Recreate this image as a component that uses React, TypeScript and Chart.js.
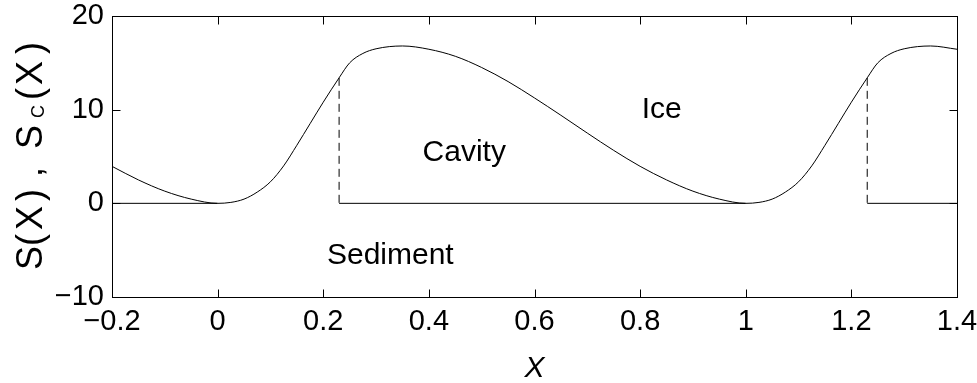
import React, { useEffect, useRef } from "react";
import { Chart, registerables } from "chart.js";

Chart.register(...registerables);

// Bed profile S(X)
const sX = [
  -0.2, -0.15, -0.1, -0.05, 0, 0.025, 0.05, 0.075, 0.1, 0.125, 0.15, 0.175, 0.2, 0.23, 0.25,
  0.275, 0.3, 0.35, 0.4, 0.45, 0.5, 0.55, 0.6, 0.65, 0.7, 0.75, 0.8, 0.85, 0.9, 0.95, 1.0,
  1.025, 1.05, 1.075, 1.1, 1.125, 1.15, 1.175, 1.2, 1.23, 1.25, 1.275, 1.3, 1.35, 1.4,
];
const sY = [
  3.95, 2.5, 1.3, 0.45, 0, 0.1, 0.45, 1.2, 2.3, 4.0, 6.2, 8.5, 10.8, 13.4, 15.0,
  16.0, 16.5, 16.8, 16.45, 15.7, 14.5, 13.0, 11.25, 9.4, 7.5, 5.65, 3.95, 2.5, 1.3, 0.45, 0,
  0.1, 0.45, 1.2, 2.3, 4.0, 6.2, 8.5, 10.8, 13.4, 15.0, 16.0, 16.5, 16.8, 16.45,
];

// Sediment line S_c(X) = 0 where the cavity floor is flat
const scX = [-0.2, 0, 0.1, 0.23, 1.0, 1.1, 1.23, 1.4];
const scY: (number | null)[] = [0, 0, null, 0, 0, null, 0, 0];

// Dashed cavity edges
const edgeX = [0.23, 0.23, 0.7, 1.23, 1.23];
const edgeY: (number | null)[] = [13.4, 0, null, 13.4, 0];

const xTicks = [-0.2, 0, 0.2, 0.4, 0.6, 0.8, 1, 1.2, 1.4];
const yTicks = [-10, 0, 10, 20];

const annText = ["Cavity", "Ice", "Sediment"];
const annX = [0.388, 0.803, 0.207];
const annY = [5.4, 10.0, -5.6];

const FONT = "'Liberation Sans', Arial, Helvetica, sans-serif";

// y-axis title glyphs (MATLAB-style spaced), centre position along the axis
const yTitleChars = ["S", "(", "X", ")", ",", "S", "C", "(", "X", ")"];
const yTitleAt = [258, 240, 218, 195, 172, 137, 111.5, 94, 73, 48];
const yTitleSub = [false, false, false, false, false, false, true, false, false, false];

function fmt(v: number): string {
  const r = Math.round(v * 10) / 10;
  return String(r).replace("-", "\u2212");
}

const framePlugin = {
  id: "frame",
  afterDraw(chart: any) {
    const { ctx, chartArea: a, scales } = chart;
    const xs = scales.x;
    const ys = scales.y;
    ctx.save();
    ctx.strokeStyle = "#000";
    ctx.lineWidth = 1;
    const L = Math.round(a.left) + 0.5;
    const R = Math.round(a.right) + 0.5;
    const T = Math.round(a.top) + 0.5;
    const B = Math.round(a.bottom) + 0.5;
    ctx.strokeRect(L, T, R - L, B - T);
    const tl = 8;
    ctx.beginPath();
    for (const v of xTicks) {
      const px = Math.round(xs.getPixelForValue(v)) + 0.5;
      ctx.moveTo(px, B);
      ctx.lineTo(px, B - tl);
      ctx.moveTo(px, T);
      ctx.lineTo(px, T + tl);
    }
    for (const v of yTicks) {
      const py = Math.round(ys.getPixelForValue(v)) + 0.5;
      ctx.moveTo(L, py);
      ctx.lineTo(L + tl, py);
      ctx.moveTo(R, py);
      ctx.lineTo(R - tl, py);
    }
    ctx.stroke();

    // annotations
    ctx.fillStyle = "#000";
    ctx.font = `30px ${FONT}`;
    ctx.textAlign = "left";
    ctx.textBaseline = "middle";
    annText.forEach((t, i) => {
      ctx.fillText(t, xs.getPixelForValue(annX[i]), ys.getPixelForValue(annY[i]));
    });

    // x title
    ctx.font = `italic 30px ${FONT}`;
    ctx.textAlign = "center";
    ctx.textBaseline = "middle";
    ctx.fillText("X", (a.left + a.right) / 2, 369);

    // y title, rotated, with subscript C
    ctx.save();
    ctx.translate(41.5, 0);
    ctx.rotate(-Math.PI / 2);
    ctx.textAlign = "center";
    ctx.textBaseline = "alphabetic";
    yTitleChars.forEach((ch, i) => {
      ctx.font = yTitleSub[i] ? `18px ${FONT}` : `36px ${FONT}`;
      ctx.fillText(ch, -yTitleAt[i], yTitleSub[i] ? 2 : 0);
    });
    ctx.restore();

    ctx.restore();
  },
};

export default function App() {
  const ref = useRef<HTMLCanvasElement | null>(null);
  useEffect(() => {
    document.body.style.margin = "0";
    if (!ref.current) return;
    const chart = new Chart(ref.current, {
      type: "line",
      data: {
        datasets: [
          {
            label: "S(X)",
            data: sX.map((x, i) => ({ x, y: sY[i] })),
            borderColor: "#000",
            borderWidth: 1,
            pointRadius: 0,
            cubicInterpolationMode: "monotone",
            fill: false,
          },
          {
            label: "Sc(X)",
            data: scX.map((x, i) => ({ x, y: scY[i] })) as any,
            borderColor: "#000",
            borderWidth: 1,
            pointRadius: 0,
            tension: 0,
            spanGaps: false,
            fill: false,
          },
          {
            label: "edges",
            data: edgeX.map((x, i) => ({ x, y: edgeY[i] })) as any,
            borderColor: "#000",
            borderWidth: 1,
            borderDash: [8, 5],
            pointRadius: 0,
            tension: 0,
            spanGaps: false,
            fill: false,
          },
        ],
      },
      options: {
        animation: false,
        responsive: true,
        maintainAspectRatio: false,
        layout: { padding: { left: 0, right: 20, top: 16, bottom: 0 } },
        plugins: { legend: { display: false }, tooltip: { enabled: false } },
        scales: {
          x: {
            type: "linear",
            min: -0.2,
            max: 1.4,
            grid: { display: false, drawTicks: false },
            border: { display: false },
            afterBuildTicks: (s: any) => {
              s.ticks = xTicks.map((v) => ({ value: v }));
            },
            ticks: {
              autoSkip: false,
              maxRotation: 0,
              color: "#000",
              padding: 8,
              font: { size: 29, family: FONT },
              callback: (v: any) => fmt(Number(v)),
            },
            afterFit: (s: any) => {
              s.height = 86;
              s.paddingLeft = 0;
              s.paddingRight = 0;
            },
          },
          y: {
            type: "linear",
            min: -10,
            max: 20,
            grid: { display: false, drawTicks: false },
            border: { display: false },
            afterBuildTicks: (s: any) => {
              s.ticks = yTicks.map((v) => ({ value: v }));
            },
            ticks: {
              autoSkip: false,
              color: "#000",
              padding: 8,
              font: { size: 29, family: FONT },
              callback: (v: any) => fmt(Number(v)),
            },
            afterFit: (s: any) => {
              s.width = 112;
              s.paddingTop = 0;
              s.paddingBottom = 0;
            },
          },
        },
      },
      plugins: [framePlugin],
    });
    return () => chart.destroy();
  }, []);
  return (
    <div style={{ position: "relative", width: 977, height: 383 }}>
      <canvas ref={ref} />
    </div>
  );
}
